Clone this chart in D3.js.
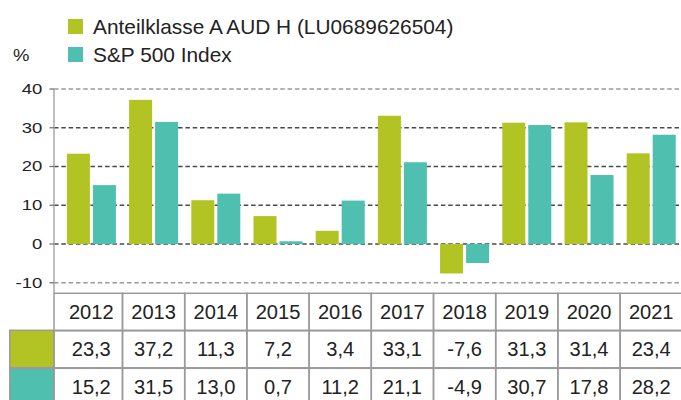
<!DOCTYPE html>
<html>
<head>
<meta charset="utf-8">
<script src="https://cdn.jsdelivr.net/npm/d3@7"></script>
<style>
  html, body { margin: 0; padding: 0; background: #fff; }
  svg { display: block; font-family: "Liberation Sans", Arial, Helvetica, sans-serif; }
</style>
</head>
<body>
<svg id="chart" width="681" height="400"></svg>
<script>
const years = ["2012","2013","2014","2015","2016","2017","2018","2019","2020","2021"];
const fundValues = [23.3, 37.2, 11.3, 7.2, 3.4, 33.1, -7.6, 31.3, 31.4, 23.4];
const indexValues = [15.2, 31.5, 13.0, 0.7, 11.2, 21.1, -4.9, 30.7, 17.8, 28.2];
const seriesNames = ["Anteilklasse A AUD H (LU0689626504)", "S&P 500 Index"];
const seriesColors = ["#b1c423", "#4fbfb0"];
const yTicks = [-10, 0, 10, 20, 30, 40];
const yUnit = "%";

const svg = d3.select("#chart");
const textColor = "#222";
const fmt = v => d3.format(".1f")(v).replace(".", ",").replace("\u2212", "-");

const axisX = 54;
const x0 = d3.scaleBand().domain(years).range([60.3, 682.3]).paddingInner(0.212).paddingOuter(0.106);
const x1 = d3.scaleBand().domain([0, 1]).range([0, x0.bandwidth()]).paddingInner(0.115);
const y = d3.scaleLinear().domain([-10, 40]).range([282.75, 89]);

// gridlines
svg.append("g").selectAll("line").data(yTicks).join("line")
  .attr("x1", axisX).attr("x2", 681)
  .attr("y1", d => y(d)).attr("y2", d => y(d))
  .attr("stroke", d => (d === 40 || d === -10) ? "#9a9a9a" : "#4a4a4a")
  .attr("stroke-width", 1.3)
  .attr("stroke-dasharray", "4.5,2.8");

// y axis line and ticks
svg.append("line").attr("x1", axisX).attr("x2", axisX).attr("y1", y(40)).attr("y2", 293)
  .attr("stroke", "#aaa").attr("stroke-width", 1.5);
svg.append("g").selectAll("line").data(yTicks).join("line")
  .attr("x1", axisX - 4.5).attr("x2", axisX)
  .attr("y1", d => y(d)).attr("y2", d => y(d))
  .attr("stroke", "#777").attr("stroke-width", 1.3);

// y tick labels
svg.append("g").selectAll("g").data(yTicks).join("g")
  .attr("transform", d => `translate(42.3,${y(d)}) scale(1.32,1)`)
  .append("text")
  .attr("text-anchor", "end").attr("dy", "0.35em")
  .attr("font-size", 14).attr("fill", textColor)
  .text(d => d);

svg.append("g").attr("transform", "translate(13,61) scale(1.12,1)")
  .append("text").attr("font-size", 16.5).attr("fill", textColor).text(yUnit);

// bars
const series = [fundValues, indexValues];
series.forEach((vals, si) => {
  svg.append("g").selectAll("rect").data(vals).join("rect")
    .attr("x", (d, i) => x0(years[i]) + x1(si))
    .attr("width", x1.bandwidth())
    .attr("y", d => y(Math.max(0, d)))
    .attr("height", d => Math.abs(y(d) - y(0)))
    .attr("fill", seriesColors[si]);
});

// legend
const legend = svg.append("g");
seriesNames.forEach((name, i) => {
  const ly = [19, 47][i];
  legend.append("rect").attr("x", 68).attr("y", ly).attr("width", 15).attr("height", 15).attr("fill", seriesColors[i]);
  legend.append("g").attr("transform", `translate(93,${ly + 15}) scale(1.043,1)`)
    .append("text").attr("font-size", 20).attr("fill", textColor).text(name);
});

// table
const rowTops = [293.3, 330.3, 368.3];
const rowH = 37.5;
const step = x0.step();
const cellLeft = i => i === 0 ? axisX : x0(years[i]) - (step - x0.bandwidth()) / 2;
const cellRight = i => x0(years[i]) - (step - x0.bandwidth()) / 2 + step;
const border = "#9a9a9a";
const table = svg.append("g");

// row header swatches
[0, 1].forEach(si => {
  table.append("rect").attr("x", 9.8).attr("y", rowTops[si + 1])
    .attr("width", axisX - 9.8).attr("height", rowH)
    .attr("fill", seriesColors[si]).attr("stroke", border).attr("stroke-width", 1.5);
});

// cells
const rowsData = [years, fundValues.map(fmt), indexValues.map(fmt)];
rowsData.forEach((row, ri) => {
  row.forEach((txt, ci) => {
    const xl = cellLeft(ci), xr = cellRight(ci);
    table.append("rect").attr("x", xl).attr("y", rowTops[ri])
      .attr("width", xr - xl).attr("height", rowH)
      .attr("fill", "none").attr("stroke", border).attr("stroke-width", 1.5);
    table.append("g").attr("transform", `translate(${(xl + xr) / 2 + (ci === 0 ? 3 : 0)},${rowTops[ri] + rowH / 2 + 7}) scale(1.03,1)`)
      .append("text")
      .attr("text-anchor", "middle").attr("font-size", 19.5).attr("fill", textColor)
      .text(txt);
  });
});
</script>
</body>
</html>
